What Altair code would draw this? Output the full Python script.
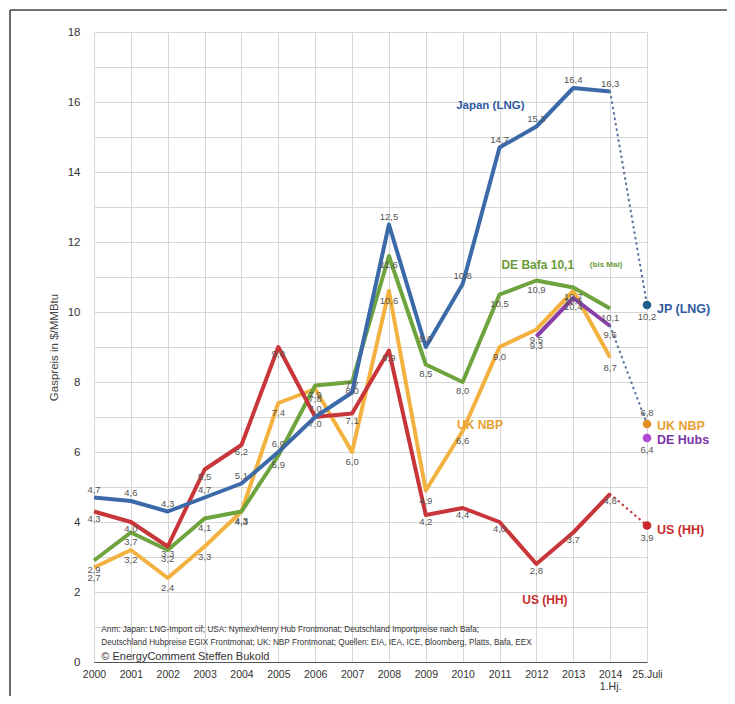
import altair as alt
import pandas as pd

# ---------------- data ----------------
x_labels = ["2000", "2001", "2002", "2003", "2004", "2005", "2006", "2007",
            "2008", "2009", "2010", "2011", "2012", "2013", "2014", "25.Juli"]
japan = [4.7, 4.6, 4.3, 4.7, 5.1, 6.0, 7.0, 7.7, 12.5, 9.0, 10.8, 14.7, 15.3, 16.4, 16.3]
de_bafa = [2.9, 3.7, 3.2, 4.1, 4.3, 5.9, 7.9, 8.0, 11.6, 8.5, 8.0, 10.5, 10.9, 10.7, 10.1]
us_hh = [4.3, 4.0, 3.3, 5.5, 6.2, 9.0, 7.0, 7.1, 8.9, 4.2, 4.4, 4.0, 2.8, 3.7, 4.8]
uk_nbp = [2.7, 3.2, 2.4, 3.3, 4.3, 7.4, 7.8, 6.0, 10.6, 4.9, 6.6, 9.0, 9.5, 10.6, 8.7]
de_hubs = [None] * 12 + [9.3, 10.4, 9.6]

end_names = ["JP (LNG)", "UK NBP", "DE Hubs", "US (HH)"]
end_values = [10.2, 6.8, 6.4, 3.9]

series_names = ["UK NBP", "DE Bafa", "US (HH)", "DE Hubs", "Japan (LNG)"]
series_values = [uk_nbp, de_bafa, us_hh, de_hubs, japan]
series_colors = ["#f3b23f", "#6ea33e", "#c8363a", "#8a3fa8", "#3c6aa9"]
label_dy = [10, 9, 7, 9, -8]

end_colors = ["#1f5f8a", "#e38d22", "#b04ad2", "#c8282d"]
end_text_colors = ["#2f5aa0", "#e8a030", "#7a35a8", "#c62e2e"]
end_val_dy = [12, -11, 12, 12]
end_name_dy = [4, 2, 2, 4]

note1 = "Anm: Japan: LNG-Import cif; USA: Nymex/Henry Hub Frontmonat; Deutschland Importpreise nach Bafa;"
note2 = "Deutschland Hubpreise EGIX Frontmonat; UK: NBP Frontmonat; Quellen: EIA, IEA, ICE, Bloomberg, Platts, Bafa, EEX"
note3 = "\u00a9 EnergyComment Steffen Bukold"

FONT = "Liberation Sans"

# ---------------- tables ----------------
rows = []
for name, vals in zip(series_names, series_values):
    for i, v in enumerate(vals):
        if v is not None:
            rows.append({"series": name, "x": i, "v": v})
lines_df = pd.DataFrame(rows)

last = len(x_labels) - 1
dots_df = pd.DataFrame([
    {"seg": "jp", "x": last - 1, "v": japan[-1], "c": "#5874a0"},
    {"seg": "jp", "x": last, "v": end_values[0], "c": "#5874a0"},
    {"seg": "uk", "x": last - 1, "v": de_hubs[-1], "c": "#5874a0"},
    {"seg": "uk", "x": last, "v": end_values[1], "c": "#5874a0"},
    {"seg": "us", "x": last - 1, "v": us_hh[-1], "c": "#c8363a"},
    {"seg": "us", "x": last, "v": end_values[3], "c": "#c8363a"},
])

end_df = pd.DataFrame({"name": end_names, "v": end_values, "x": [last] * 4,
                       "pc": end_colors, "tc": end_text_colors})

# ---------------- encodings ----------------
lbl_js = "[" + ",".join("'%s'" % s for s in x_labels) + "]"
x_expr = "datum.value == 14 ? ['2014', '1.Hj.'] : %s[datum.value]" % lbl_js


def X(field="x:Q"):
    return alt.X(field, scale=alt.Scale(domain=[0, 15], nice=False, zero=False),
                 axis=alt.Axis(values=list(range(16)), labelExpr=x_expr, title=None,
                               labelOverlap=False, labelBound=False, labelFlush=False,
                               grid=True, gridColor="#d6d6d6", gridWidth=1,
                               domain=True, domainColor="#555", domainWidth=1.2,
                               ticks=False, labelPadding=7, labelFontSize=10.5,
                               labelColor="#333", labelFont=FONT, labelLineHeight=12))


def Y(field="v:Q"):
    return alt.Y(field, scale=alt.Scale(domain=[0, 18], nice=False),
                 axis=alt.Axis(values=list(range(19)),
                               labelExpr="datum.value % 2 == 0 ? datum.label : ''",
                               labelOverlap=False,
                               title="Gaspreis in $/MMBtu", titleFontSize=11.5,
                               titleFontWeight="normal", titleColor="#444", titleFont=FONT,
                               titlePadding=8, grid=True, gridColor="#d6d6d6",
                               domain=False, ticks=False, labelPadding=14,
                               labelFontSize=11.5, labelColor="#333", labelFont=FONT))


color = alt.Color("series:N", scale=alt.Scale(domain=series_names, range=series_colors),
                  legend=None)

lines = alt.Chart(lines_df).mark_line(strokeWidth=4, strokeJoin="round").encode(
    x=X(), y=Y(), color=color,
    order=alt.Order("x:Q"),
)

fmt = "replace(format(datum.v, '.1f'), '.', ',')"
value_layers = []
for name, dy in zip(series_names, label_dy):
    value_layers.append(
        alt.Chart(lines_df).transform_filter(alt.datum.series == name)
        .transform_calculate(lbl=fmt)
        .mark_text(fontSize=9.5, color="#555", font=FONT, dy=dy)
        .encode(x=X(), y=Y(), text="lbl:N")
    )

dotted = alt.Chart(dots_df).mark_line(strokeWidth=2.2, strokeDash=[0.5, 5],
                                      strokeCap="round").encode(
    x=X(), y=Y(), detail="seg:N", color=alt.Color("c:N", scale=None)
)

end_points = alt.Chart(end_df).mark_point(filled=True, size=75, opacity=1).encode(
    x=X(), y=Y(), color=alt.Color("pc:N", scale=None)
)

end_layers = []
for name, vdy, ndy in zip(end_names, end_val_dy, end_name_dy):
    sub = alt.Chart(end_df).transform_filter(alt.datum.name == name)
    end_layers.append(sub.transform_calculate(lbl=fmt).mark_text(
        fontSize=9.5, color="#555", font=FONT, dy=vdy).encode(x=X(), y=Y(), text="lbl:N"))
    end_layers.append(sub.mark_text(fontSize=12.5, fontWeight="bold", align="left",
                                    dx=10, dy=ndy, font=FONT).encode(
        x=X(), y=Y(), text="name:N", color=alt.Color("tc:N", scale=None)))

series_lbl_df = pd.DataFrame([
    {"t": "Japan (LNG)", "x": 10.75, "v": 15.9, "c": "#2f5aa0", "s": 11.5},
    {"t": "UK NBP", "x": 10.47, "v": 6.77, "c": "#e8a030", "s": 12},
    {"t": "US (HH)", "x": 12.23, "v": 1.77, "c": "#c62e2e", "s": 12},
])
series_lbl = alt.Chart(series_lbl_df).mark_text(fontWeight="bold", font=FONT).encode(
    x=X(), y=Y(), text="t:N", color=alt.Color("c:N", scale=None),
    size=alt.Size("s:Q", scale=None))
bafa_lbl = alt.Chart(pd.DataFrame({"t": ["DE Bafa 10,1"], "x": [11.05], "v": [11.35]})).mark_text(
    fontWeight="bold", font=FONT, align="left", fontSize=12, color="#6a9a3a").encode(
    x=X(), y=Y(), text="t:N")
bis_mai = alt.Chart(pd.DataFrame({"t": ["(bis Mai)"], "x": [13.45], "v": [11.35]})).mark_text(
    font=FONT, align="left", fontSize=8, color="#6a9a3a", fontWeight="bold").encode(
    x=X(), y=Y(), text="t:N")

notes_df = pd.DataFrame({"t": [note1, note2], "x": [0.2, 0.2], "v": [0.92, 0.55]})
notes = alt.Chart(notes_df).mark_text(font=FONT, align="left", fontSize=8.2,
                                      color="#333").encode(x=X(), y=Y(), text="t:N")
copy = alt.Chart(pd.DataFrame({"t": [note3], "x": [0.2], "v": [0.15]})).mark_text(
    font=FONT, align="left", fontSize=11, color="#333").encode(x=X(), y=Y(), text="t:N")

one = pd.DataFrame({"a": [0]})
border_top = alt.Chart(one).mark_rule(stroke="#444", strokeWidth=1.6).encode(
    x=alt.value(-84), x2=alt.value(640), y=alt.value(-22))
border_left = alt.Chart(one).mark_rule(stroke="#444", strokeWidth=1.6).encode(
    x=alt.value(-84), y=alt.value(-22), y2=alt.value(670))

chart = alt.layer(
    border_top, border_left, lines, dotted, *value_layers, end_points, *end_layers,
    series_lbl, bafa_lbl, bis_mai, notes, copy
).properties(
    width=553, height=630,
    autosize=alt.AutoSizeParams(type="none"),
    padding={"left": 86, "top": 24, "right": 80, "bottom": 34},
).configure_view(stroke=None)

chart.save("out.html", embed_options={"renderer": "svg", "actions": False})
